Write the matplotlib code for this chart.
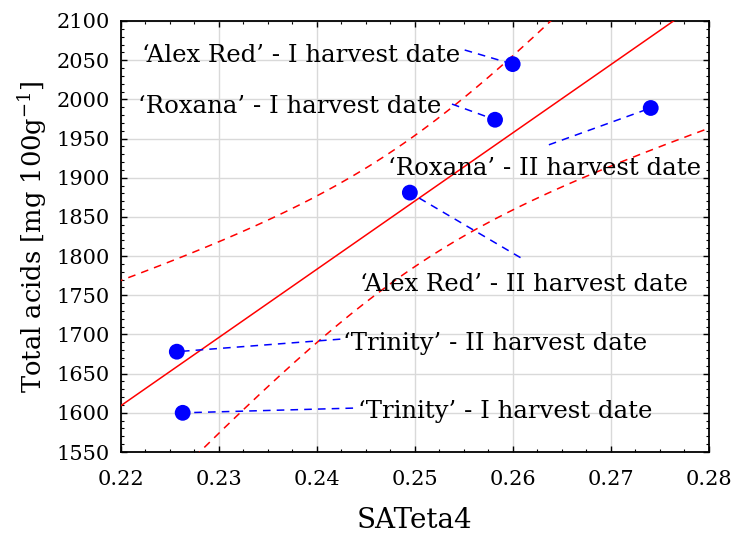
import numpy as np
import matplotlib
matplotlib.use("Agg")
import matplotlib.pyplot as plt
from matplotlib.ticker import AutoMinorLocator

FONT = "DejaVu Serif"
plt.rcParams['font.family'] = [FONT]
plt.rcParams['mathtext.fontset'] = 'dejavuserif'

# data
sateta4 = [0.2600, 0.2582, 0.2741, 0.2495, 0.2257, 0.2263]
total_acids = [2045, 1974, 1989, 1881, 1678, 1600]

labels = ["\u2018Alex Red\u2019 - I harvest date",
          "\u2018Roxana\u2019 - I harvest date",
          "\u2018Roxana\u2019 - II harvest date",
          "\u2018Alex Red\u2019 - II harvest date",
          "\u2018Trinity\u2019 - II harvest date",
          "\u2018Trinity\u2019 - I harvest date"]
# label text anchors (left, baseline) in data units
label_x = [0.2221, 0.2217, 0.2473, 0.2444, 0.2427, 0.2442]
label_y = [2048, 1982, 1904, 1756, 1680, 1594]
# leader line far ends in data units (the other end is the point)
leader_x = [0.2551, 0.2538, 0.2637, 0.2608, 0.2424, 0.2437]
leader_y = [2063, 1994, 1942, 1798, 1694, 1606]

xticks = [0.22, 0.23, 0.24, 0.25, 0.26, 0.27, 0.28]
yticks = [1550, 1600, 1650, 1700, 1750, 1800, 1850, 1900, 1950, 2000, 2050, 2100]

fig = plt.figure(figsize=(7.33, 5.34), dpi=100)
ax = fig.add_axes([121/733, 1-452/534, (708.5-121)/733, (452-21)/534])

x = np.array(sateta4)
y = np.array(total_acids, dtype=float)
n = len(x)
b, a = np.polyfit(x, y, 1)
xs = np.linspace(0.20, 0.30, 300)
yhat = a + b * xs
res = y - (a + b * x)
s = np.sqrt(np.sum(res**2) / (n - 2))
sxx = np.sum((x - x.mean())**2)
t = 2.7764451051977987  # t(0.975, df=4)
se = s * np.sqrt(1.0/n + (xs - x.mean())**2 / sxx)

ax.plot(xs, yhat, color='red', lw=1.1, zorder=3)
ax.plot(xs, yhat + t*se, color='red', lw=1.1, ls=(0, (5, 4)), zorder=3)
ax.plot(xs, yhat - t*se, color='red', lw=1.1, ls=(0, (5, 4)), zorder=3)

for i in range(n):
    ax.plot([leader_x[i], sateta4[i]], [leader_y[i], total_acids[i]],
            color='blue', lw=1.1, ls=(0, (5, 4)), zorder=4)
    ax.text(label_x[i], label_y[i], labels[i], fontsize=17.6,
            ha='left', va='baseline', color='black', zorder=6)

ax.scatter(sateta4, total_acids, s=130, color='blue', edgecolor='none', zorder=5)

ax.set_xlim(0.22, 0.28)
ax.set_ylim(1550, 2100)
ax.set_xticks(xticks)
ax.set_yticks(yticks)
ax.set_xticklabels([f"{v:.2f}" for v in xticks])
ax.set_yticklabels([str(v) for v in yticks])
ax.xaxis.set_minor_locator(AutoMinorLocator(4))
ax.yaxis.set_minor_locator(AutoMinorLocator(5))
ax.tick_params(which='both', direction='in', top=True, right=True, labelsize=15)
ax.tick_params(which='major', length=4, width=1)
ax.tick_params(axis='x', which='major', pad=13)
ax.tick_params(axis='y', which='major', pad=8)
ax.tick_params(which='minor', length=2, width=0.8)
ax.grid(True, which='major', color='#d9d9d9', lw=1.0, zorder=0)
ax.set_axisbelow(True)
for sp in ax.spines.values():
    sp.set_linewidth(1.3)

ax.set_xlabel("SATeta4", fontsize=20)
ax.xaxis.set_label_coords(0.5, -0.128)
ax.set_ylabel("Total acids [mg 100g$^{-1}$]", fontsize=18.5)
ax.yaxis.set_label_coords(-0.122, 0.5)

fig.savefig("out.png", dpi=100)
